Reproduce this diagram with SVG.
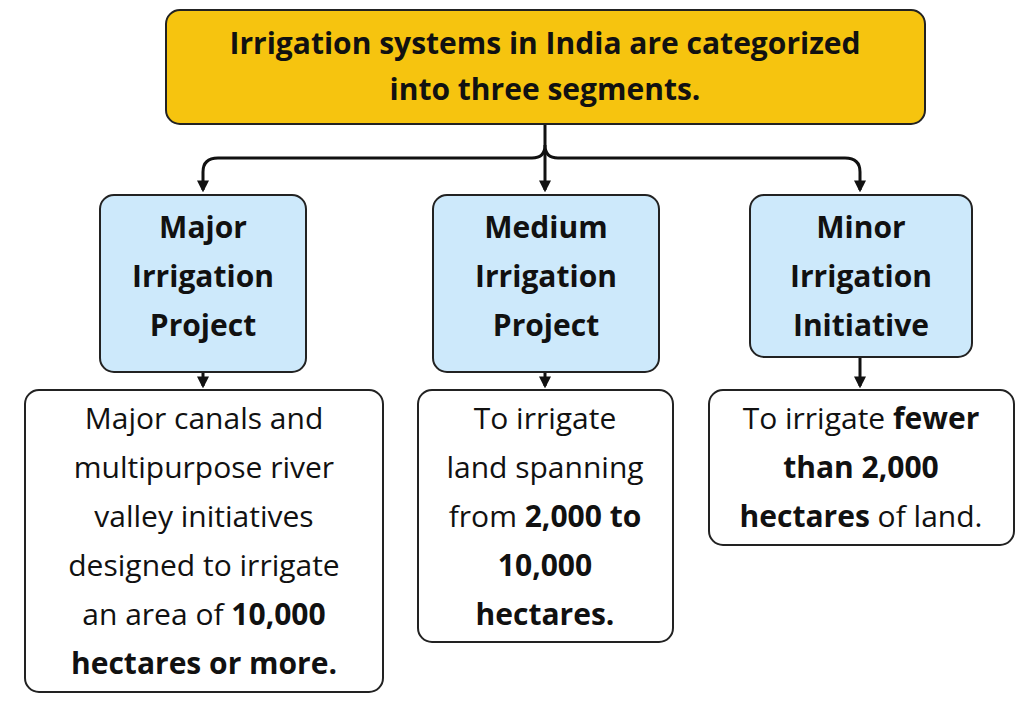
<svg xmlns="http://www.w3.org/2000/svg" width="1024" height="702" viewBox="0 0 1024 702">
<style>
.t{font-family:"Open Sans","Liberation Sans",sans-serif;font-size:30px;fill:#111;text-anchor:middle}
.b{font-weight:bold}
.c{fill:none;stroke:#111;stroke-width:3}
</style>
<defs><marker id="a" viewBox="0 0 10 10" refX="8" refY="5" markerWidth="4" markerHeight="4" orient="auto"><path d="M0,0L10,5L0,10z" fill="#111"/></marker></defs>
<rect width="1024" height="702" fill="#fff"/>
<g id="connectors">
<path class="c" d="M545,124V145Q545,158 532,158H218Q203,158 203,172V190" marker-end="url(#a)"/>
<path class="c" d="M545,145Q545,158 558,158H845Q860,158 860,172V190" marker-end="url(#a)"/>
<path class="c" d="M545,150V190" marker-end="url(#a)"/>
<path class="c" d="M203,372V386" marker-end="url(#a)"/>
<path class="c" d="M545,372V386" marker-end="url(#a)"/>
<path class="c" d="M860,357V386" marker-end="url(#a)"/>
</g>
<g id="top"><rect x="166" y="10" width="759" height="114" rx="14" fill="#F6C40F" stroke="#222" stroke-width="2"/>
<text class="t b" x="545" y="54">Irrigation systems in India are categorized</text>
<text class="t b" x="545" y="100">into three segments.</text></g>
<g id="major"><rect x="100" y="195" width="206" height="177" rx="14" fill="#CDE9FB" stroke="#222" stroke-width="2"/>
<text class="t b" x="203" y="238">Major</text><text class="t b" x="203" y="287">Irrigation</text><text class="t b" x="203" y="336">Project</text></g>
<g id="medium"><rect x="433" y="195" width="226" height="177" rx="14" fill="#CDE9FB" stroke="#222" stroke-width="2"/>
<text class="t b" x="546" y="238">Medium</text><text class="t b" x="546" y="287">Irrigation</text><text class="t b" x="546" y="336">Project</text></g>
<g id="minor"><rect x="750" y="195" width="222" height="162" rx="14" fill="#CDE9FB" stroke="#222" stroke-width="2"/>
<text class="t b" x="861" y="238">Minor</text><text class="t b" x="861" y="287">Irrigation</text><text class="t b" x="861" y="336">Initiative</text></g>
<g id="d1"><rect x="25" y="390" width="358" height="302" rx="14" fill="#fff" stroke="#222" stroke-width="2"/>
<text class="t" x="204" y="429">Major canals and</text>
<text class="t" x="204" y="478">multipurpose river</text>
<text class="t" x="204" y="527">valley initiatives</text>
<text class="t" x="204" y="576">designed to irrigate</text>
<text class="t" x="204" y="625">an area of <tspan class="b">10,000</tspan></text>
<text class="t b" x="204" y="674">hectares or more.</text></g>
<g id="d2"><rect x="418" y="390" width="255" height="252" rx="14" fill="#fff" stroke="#222" stroke-width="2"/>
<text class="t" x="545" y="429">To irrigate</text>
<text class="t" x="545" y="478">land spanning</text>
<text class="t" x="545" y="527">from <tspan class="b">2,000 to</tspan></text>
<text class="t b" x="545" y="576">10,000</text>
<text class="t b" x="545" y="625">hectares.</text></g>
<g id="d3"><rect x="709" y="390" width="305" height="155" rx="14" fill="#fff" stroke="#222" stroke-width="2"/>
<text class="t" x="861" y="429">To irrigate <tspan class="b">fewer</tspan></text>
<text class="t b" x="861" y="478">than 2,000</text>
<text class="t" x="861" y="527"><tspan class="b">hectares</tspan> of land.</text></g>
</svg>
